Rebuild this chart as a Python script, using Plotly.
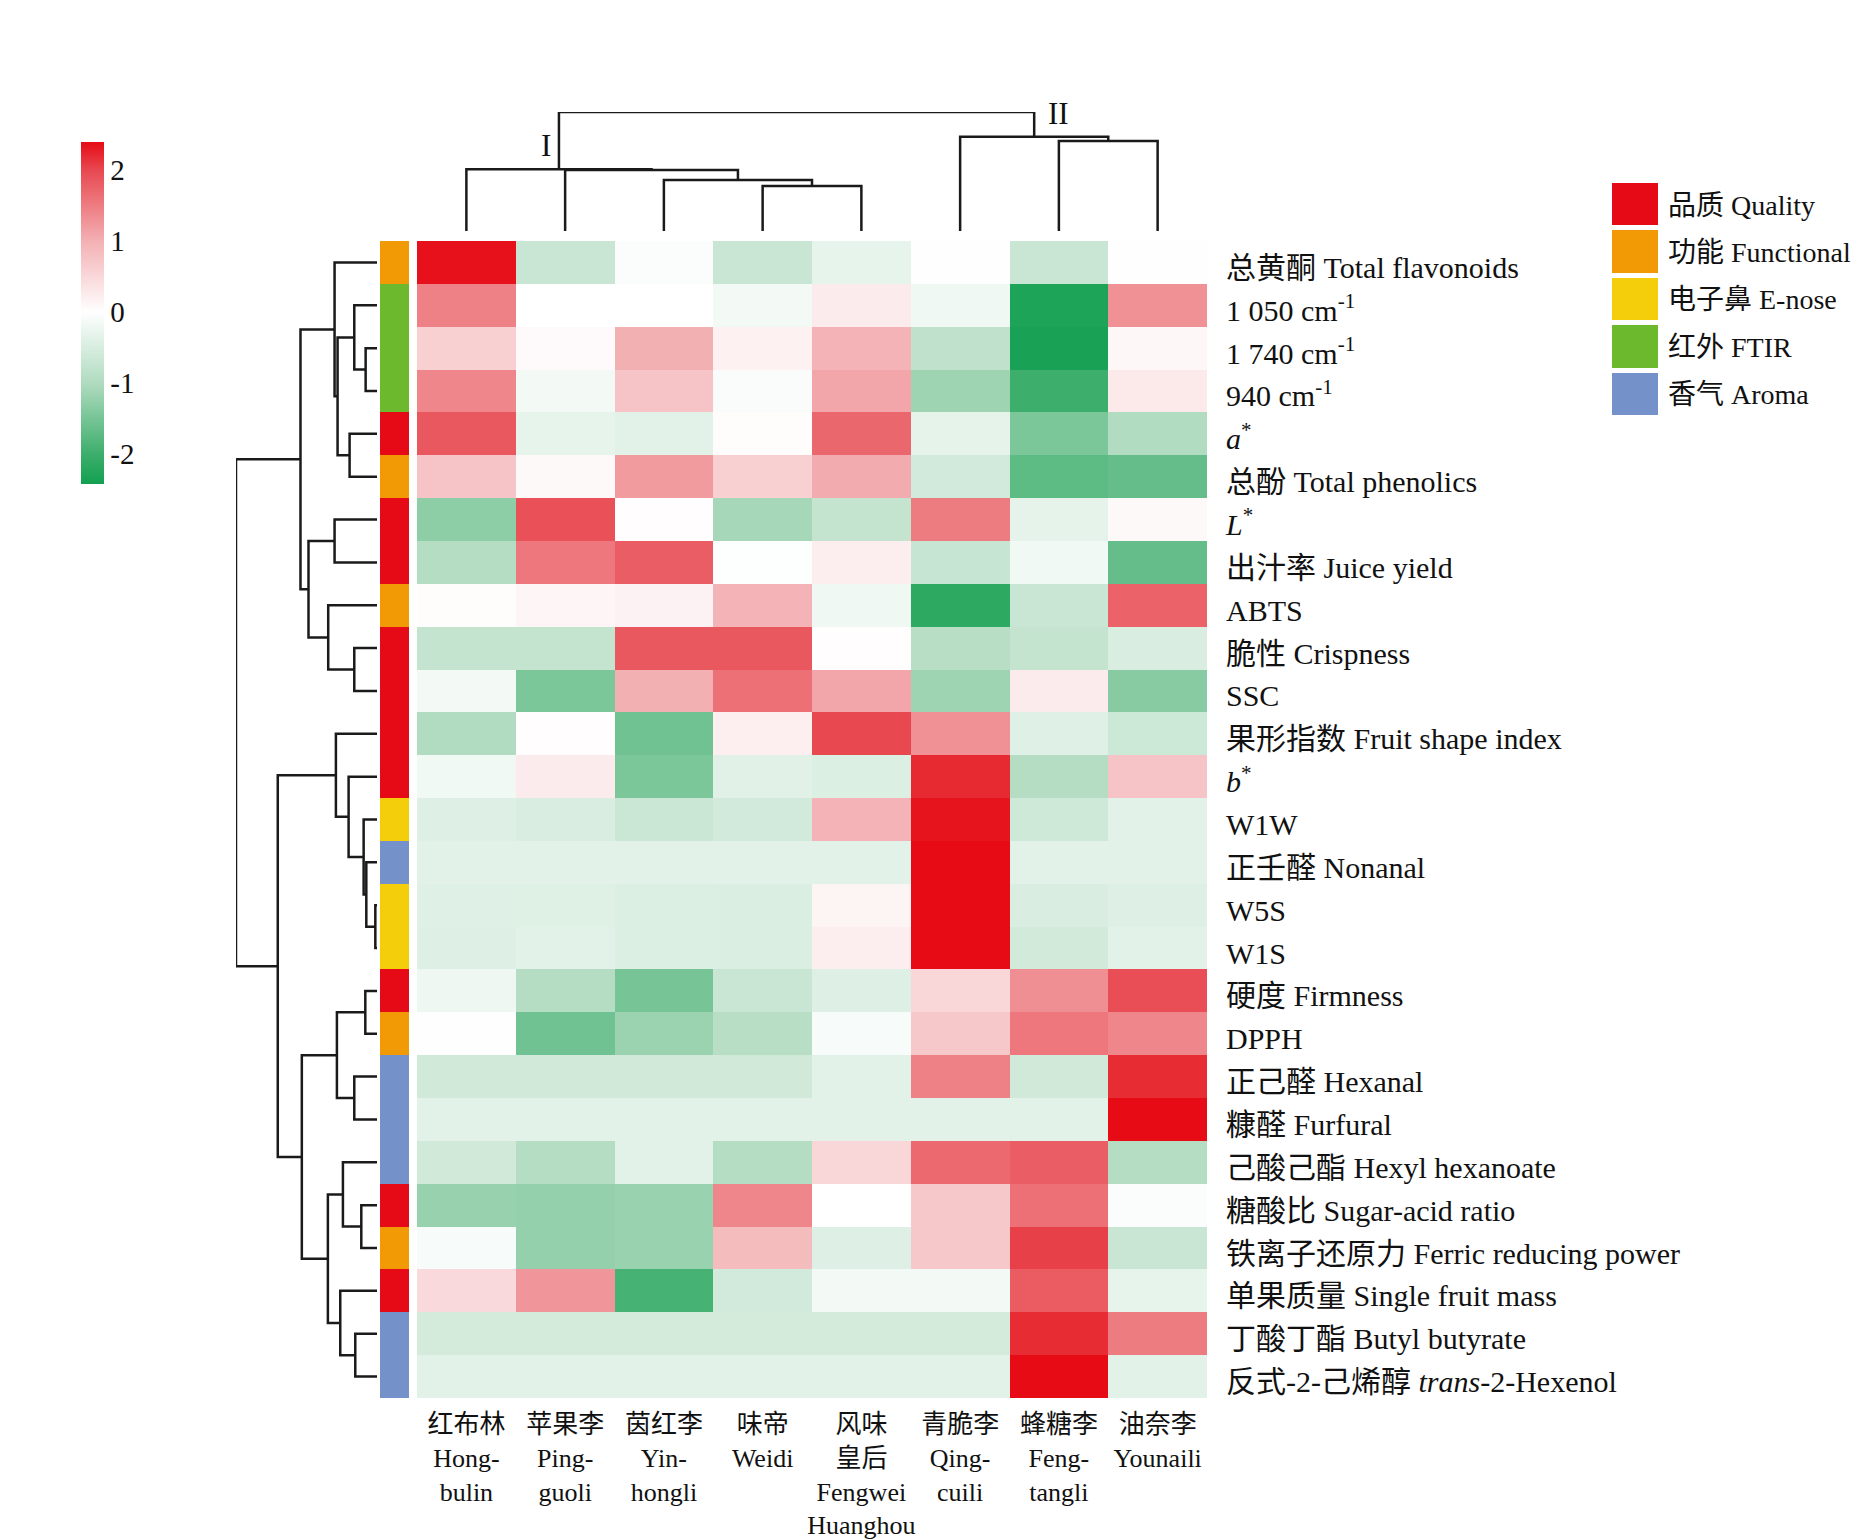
import plotly.graph_objects as go

W, H = 1868, 1540
FONT = "Liberation Serif, Noto Sans CJK SC"

# cultivars in clustered order
col_labels = [
    "红布林<br>Hong-<br>bulin",
    "苹果李<br>Ping-<br>guoli",
    "茵红李<br>Yin-<br>hongli",
    "味帝<br>Weidi",
    "风味<br>皇后<br>Fengwei<br>Huanghou",
    "青脆李<br>Qing-<br>cuili",
    "蜂糖李<br>Feng-<br>tangli",
    "油奈李<br>Younaili",
]

row_labels = [
    "总黄酮 Total flavonoids",
    "1 050 cm<sup>-1</sup>",
    "1 740 cm<sup>-1</sup>",
    "940 cm<sup>-1</sup>",
    "<i>a</i><sup>*</sup>",
    "总酚 Total phenolics",
    "<i>L</i><sup>*</sup>",
    "出汁率 Juice yield",
    "ABTS",
    "脆性 Crispness",
    "SSC",
    "果形指数 Fruit shape index",
    "<i>b</i><sup>*</sup>",
    "W1W",
    "正壬醛 Nonanal",
    "W5S",
    "W1S",
    "硬度 Firmness",
    "DPPH",
    "正己醛 Hexanal",
    "糠醛 Furfural",
    "己酸己酯 Hexyl hexanoate",
    "糖酸比 Sugar-acid ratio",
    "铁离子还原力 Ferric reducing power",
    "单果质量 Single fruit mass",
    "丁酸丁酯 Butyl butyrate",
    "反式-2-己烯醇 <i>trans</i>-2-Hexenol",
]

group_names = ["品质 Quality", "功能 Functional", "电子鼻 E-nose", "红外 FTIR", "香气 Aroma"]
group_colors = ["#e60a17", "#f29a05", "#f5ce0b", "#6cb92e", "#7491c9"]

# group index for each row (0 quality, 1 functional, 2 e-nose, 3 FTIR, 4 aroma)
row_groups = [1, 3, 3, 3, 0, 1, 0, 0, 1, 0, 0, 0, 0, 2, 4, 2, 2,
              0, 1, 4, 4, 4, 0, 1, 0, 4, 4]

# standardized values, one list per row, columns in the order above
values = [
    [2.35, -0.70, -0.05, -0.70, -0.30, -0.03, -0.70, -0.03],
    [1.45, 0.00, 0.00, -0.15, 0.25, -0.20, -2.30, 1.30],
    [0.60, 0.07, 1.00, 0.18, 0.95, -0.80, -2.35, 0.10],
    [1.40, -0.15, 0.75, -0.07, 1.10, -1.15, -2.00, 0.28],
    [1.85, -0.30, -0.35, 0.04, 1.70, -0.33, -1.45, -0.97],
    [0.75, 0.08, 1.20, 0.60, 1.05, -0.57, -1.72, -1.65],
    [-1.30, 1.92, 0.02, -1.10, -0.75, 1.50, -0.33, 0.08],
    [-0.95, 1.55, 1.80, -0.02, 0.22, -0.72, -0.18, -1.65],
    [0.04, 0.12, 0.16, 0.95, -0.20, -2.15, -0.70, 1.75],
    [-0.75, -0.75, 1.85, 1.85, 0.03, -0.90, -0.75, -0.48],
    [-0.15, -1.45, 1.00, 1.62, 1.10, -1.15, 0.25, -1.35],
    [-0.97, 0.02, -1.55, 0.20, 2.00, 1.30, -0.40, -0.65],
    [-0.18, 0.25, -1.45, -0.38, -0.45, 2.20, -0.95, 0.75],
    [-0.42, -0.48, -0.68, -0.57, 0.95, 2.33, -0.62, -0.36],
    [-0.35, -0.35, -0.36, -0.36, -0.37, 2.39, -0.35, -0.36],
    [-0.40, -0.41, -0.45, -0.46, 0.14, 2.39, -0.48, -0.42],
    [-0.42, -0.35, -0.45, -0.46, 0.23, 2.39, -0.58, -0.36],
    [-0.22, -0.95, -1.50, -0.70, -0.42, 0.50, 1.32, 1.95],
    [0.01, -1.55, -1.18, -0.90, -0.10, 0.70, 1.55, 1.40],
    [-0.60, -0.60, -0.60, -0.60, -0.37, 1.45, -0.60, 2.18],
    [-0.37, -0.37, -0.37, -0.37, -0.37, -0.37, -0.37, 2.39],
    [-0.60, -0.95, -0.35, -0.95, 0.50, 1.68, 1.80, -0.95],
    [-1.22, -1.24, -1.20, 1.40, 0.00, 0.70, 1.62, -0.05],
    [-0.10, -1.24, -1.20, 0.85, -0.42, 0.70, 2.05, -0.70],
    [0.48, 1.25, -1.92, -0.57, -0.15, -0.15, 1.82, -0.30],
    [-0.55, -0.55, -0.55, -0.55, -0.55, -0.55, 2.18, 1.50],
    [-0.36, -0.36, -0.36, -0.36, -0.36, -0.36, 2.39, -0.36],
]

# linkage (left, right, height); new nodes numbered from n upwards
row_linkage = [
    (2, 3, 34), (1, 27, 68), (4, 5, 82), (28, 29, 118), (0, 30, 127),
    (6, 7, 127), (9, 10, 68), (8, 33, 146), (32, 34, 205), (31, 35, 229),
    (15, 16, 5), (14, 37, 32), (13, 38, 40), (12, 39, 85), (11, 40, 123),
    (17, 18, 35), (19, 20, 68), (42, 43, 120), (22, 23, 47), (21, 45, 102),
    (25, 26, 65), (24, 47, 110), (46, 48, 147), (44, 49, 225), (41, 50, 297),
    (36, 51, 422),
]
col_linkage = [
    (3, 4, 135), (2, 8, 153), (1, 9, 183), (0, 10, 185),
    (6, 7, 270), (5, 12, 283), (11, 13, 357),
]

colorscale = [
    [0.0, "#12a050"], [0.0873, "#3dae6c"], [0.2952, "#b0dbc0"],
    [0.5031, "#ffffff"], [0.711, "#f3b0b3"], [0.9189, "#e84850"], [1.0, "#e60b14"],
]


def dendro(linkage, n):
    pos = {i: float(i) for i in range(n)}
    hgt = {i: 0.0 for i in range(n)}
    ps, hs = [], []
    for k, (a, b, h) in enumerate(linkage):
        ps += [pos[a], pos[a], pos[b], pos[b], None]
        hs += [hgt[a], h, h, hgt[b], None]
        pos[n + k] = (pos[a] + pos[b]) / 2
        hgt[n + k] = h
    return ps, hs, pos, hgt


def px_x(a, b):
    return [a / W, b / W]


def px_y(top, bottom):
    return [1 - bottom / H, 1 - top / H]


n_rows, n_cols = len(row_labels), len(col_labels)
fig = go.Figure()

# main heatmap
fig.add_trace(go.Heatmap(
    z=values, x=list(range(n_cols)), y=list(range(n_rows)),
    colorscale=colorscale, zmin=-2.42, zmax=2.39, hoverinfo="skip",
    colorbar=dict(x=73 / W, xanchor="left", y=1 - 134 / H, yanchor="top",
                  len=342 / H, lenmode="fraction", thickness=23, outlinewidth=0,
                  xpad=0, ypad=0, tickvals=[-2, -1, 0, 1, 2],
                  ticktext=["-2", "-1", "0", "1", "2"], ticks="",
                  tickfont=dict(family=FONT, size=29, color="#111")),
    xaxis="x", yaxis="y"))

# group annotation bar
fig.add_trace(go.Heatmap(
    z=[[g] for g in row_groups], x=[0], y=list(range(n_rows)),
    colorscale=[[i / 4, c] for i, c in enumerate(group_colors)],
    zmin=0, zmax=4, showscale=False, hoverinfo="skip",
    xaxis="x2", yaxis="y2"))

# row dendrogram
rp, rh, _, _ = dendro(row_linkage, n_rows)
fig.add_trace(go.Scatter(x=rh, y=rp, mode="lines", line=dict(color="#1a1a1a", width=2.5),
                         hoverinfo="skip", showlegend=False, xaxis="x3", yaxis="y3"))

# column dendrogram
cp, ch, cpos, chgt = dendro(col_linkage, n_cols)
fig.add_trace(go.Scatter(x=cp, y=ch, mode="lines", line=dict(color="#1a1a1a", width=2.5),
                         hoverinfo="skip", showlegend=False, xaxis="x4", yaxis="y4"))

# group legend
fig.add_trace(go.Heatmap(
    z=[[i] for i in range(len(group_names))], x=[0], y=list(range(len(group_names))),
    colorscale=[[i / 4, c] for i, c in enumerate(group_colors)],
    zmin=0, zmax=4, showscale=False, ygap=5, hoverinfo="skip",
    xaxis="x5", yaxis="y5"))

hm_x = px_x(409, 1199)
hm_y = px_y(233, 1390)
row_range = [n_rows - 0.5, -0.5]
hidden = dict(showgrid=False, zeroline=False, showticklabels=False, ticks="", showline=False)

fig.update_layout(
    width=W, height=H, margin=dict(l=0, r=0, t=0, b=0),
    paper_bgcolor="white", plot_bgcolor="white", showlegend=False,
    font=dict(family=FONT, color="#111"),
    xaxis=dict(domain=hm_x, range=[-0.5, n_cols - 0.5], anchor="y",
               tickvals=list(range(n_cols)), ticktext=col_labels, ticks="", tickangle=0,
               showgrid=False, zeroline=False, ticklabelstandoff=8,
               tickfont=dict(family=FONT, size=26, color="#111")),
    yaxis=dict(domain=hm_y, range=row_range, anchor="x", side="right",
               tickvals=list(range(n_rows)), ticktext=row_labels, ticks="",
               showgrid=False, zeroline=False, ticklabelstandoff=18, ticklabelshift=-5,
               tickfont=dict(family=FONT, size=30, color="#111")),
    xaxis2=dict(domain=px_x(372, 401), range=[-0.5, 0.5], anchor="y2", **hidden),
    yaxis2=dict(domain=hm_y, range=row_range, anchor="x2", **hidden),
    xaxis3=dict(domain=px_x(228, 369), range=[422, 0], anchor="y3", **hidden),
    yaxis3=dict(domain=hm_y, range=row_range, anchor="x3", **hidden),
    xaxis4=dict(domain=hm_x, range=[-0.5, n_cols - 0.5], anchor="y4", **hidden),
    yaxis4=dict(domain=px_y(104, 223), range=[0, 357], anchor="x4", **hidden),
    xaxis5=dict(domain=px_x(1604, 1650), range=[-0.5, 0.5], anchor="y5", **hidden),
    yaxis5=dict(domain=px_y(173, 410), range=[len(group_names) - 0.5, -0.5], anchor="x5",
                side="right", tickvals=list(range(len(group_names))), ticktext=group_names,
                ticks="", showgrid=False, zeroline=False, ticklabelstandoff=9,
                tickfont=dict(family=FONT, size=28, color="#111")),
)

# cluster labels next to the two main column clusters
fig.add_annotation(x=cpos[11], y=chgt[11], xref="x4", yref="y4", text="I", showarrow=False,
                   xanchor="right", yanchor="bottom", xshift=-6, yshift=4,
                   font=dict(family=FONT, size=31, color="#111"))
fig.add_annotation(x=cpos[13], y=chgt[13], xref="x4", yref="y4", text="II", showarrow=False,
                   xanchor="left", yanchor="bottom", xshift=12, yshift=4,
                   font=dict(family=FONT, size=31, color="#111"))

fig.write_html("out.html")
